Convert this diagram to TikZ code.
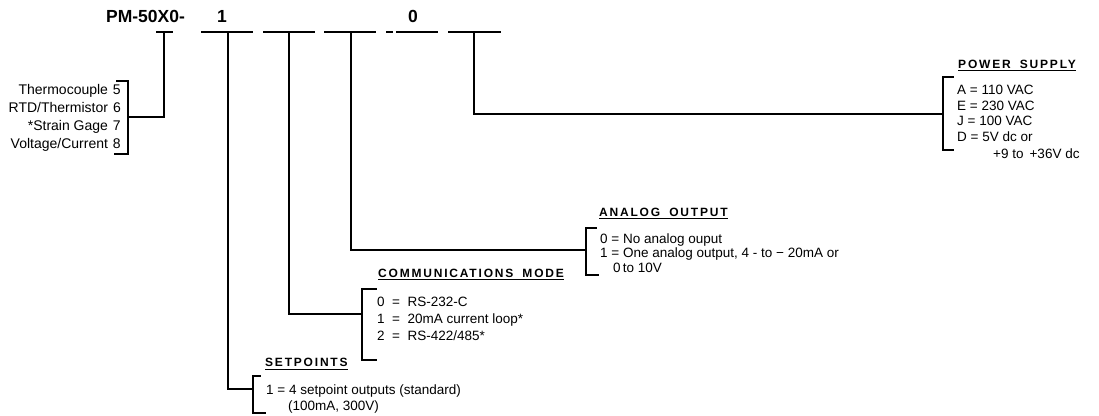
\documentclass[tikz,border=0pt]{standalone}
\usepackage{fontspec}
\setmainfont{Liberation Sans}
\newfontfamily\hdrfont{Liberation Sans}[LetterSpace=15]
\begin{document}
\begin{tikzpicture}[x=1pt,y=-1pt,
  ln/.style={line width=1.3pt, line join=miter, line cap=rect},
  ul/.style={line width=1.1pt},
  codetxt/.style={inner sep=0pt, anchor=base, font=\bfseries\fontsize{17.5}{20}\selectfont},
  lbl/.style={inner sep=0pt, anchor=base east, font=\fontsize{14}{16}\selectfont},
  item/.style={inner sep=0pt, anchor=base west, font=\fontsize{13.5}{16}\selectfont},
  hdr/.style={inner sep=0pt, anchor=base west, font=\hdrfont\bfseries\fontsize{12}{14}\selectfont}]
\useasboundingbox[fill=white] (0,0) rectangle (1099,415);

% model code
\node[codetxt] (pm) at (145.5,22.5) {PM-50X0-};
\node[codetxt] (d1) at (222,22.5) {1};
\node[codetxt] (d0) at (413,22.5) {0};

% slot underlines
\coordinate (s0a) at (157,32); \coordinate (s0b) at (172,32); \coordinate (s0m) at (164,32);
\coordinate (s1a) at (202,32); \coordinate (s1b) at (252,32); \coordinate (s1m) at (228,32);
\coordinate (s2a) at (264,32); \coordinate (s2b) at (314,32); \coordinate (s2m) at (289,32);
\coordinate (s3a) at (325,32); \coordinate (s3b) at (375,32); \coordinate (s3m) at (351,32);
\coordinate (s4a) at (387,32); \coordinate (s4c) at (392,32); \coordinate (s4d) at (397,32); \coordinate (s4b) at (437,32);
\coordinate (s5a) at (449,32); \coordinate (s5b) at (500,32); \coordinate (s5m) at (474,32);
\draw[ln] (s0a) -- (s0b);
\draw[ln] (s1a) -- (s1b);
\draw[ln] (s2a) -- (s2b);
\draw[ln] (s3a) -- (s3b);
\draw[ln] (s4a) -- (s4c);
\draw[ln] (s4d) -- (s4b);
\draw[ln] (s5a) -- (s5b);

% input type (left)
\node[lbl] (t5) at (121,94) {Thermocouple\hspace{5pt}5};
\node[lbl] (t6) at (121,112) {RTD/Thermistor\hspace{5pt}6};
\node[lbl] (t7) at (121,130) {*Strain Gage\hspace{5pt}7};
\node[lbl] (t8) at (121,148) {Voltage/Current\hspace{5pt}8};
\coordinate (lt) at (128,81); \coordinate (ltt) at (117,81);
\coordinate (lb) at (128,154); \coordinate (lbt) at (115,154);
\coordinate (lm) at (128,117);
\draw[ln] (ltt) -- (lt) -- (lb) -- (lbt);
\draw[ln] (s0m) |- (lm);

% power supply
\node[hdr] (psh) at (958,68.3) {POWER\hspace{4pt} SUPPLY};
\draw[ul] ([yshift=-2.5pt]psh.base west) -- ([yshift=-2.5pt]psh.base east);
\node[item] (pa) at (957,94) {A = 110 VAC};
\node[item] (pe) at (957,110) {E = 230 VAC};
\node[item] (pj) at (957,125.5) {J = 100 VAC};
\node[item] (pd) at (957,141.5) {D = 5V dc or};
\node[item] (pd2) at (993,158) {+9 to\, +36V dc};
\coordinate (pt) at (943,77); \coordinate (ptt) at (953,77);
\coordinate (pb) at (943,150); \coordinate (pbt) at (953,150);
\coordinate (pm2) at (943,114);
\draw[ln] (ptt) -- (pt) -- (pb) -- (pbt);
\draw[ln] (s5m) |- (pm2);

% analog output
\node[hdr] (aoh) at (599,216.3) {ANALOG\hspace{4pt} OUTPUT};
\draw[ul] ([yshift=-2.5pt]aoh.base west) -- ([yshift=-2.5pt]aoh.base east);
\node[item] (a0) at (600,243) {0 = No analog ouput};
\node[item] (a1) at (600,257.5) {1 = One analog output, 4 - to \char"2212{} 20mA or};
\node[item] (a2) at (613,272.5) {0\,to 10V};
\coordinate (at) at (586,228); \coordinate (att) at (596,228);
\coordinate (ab) at (586,275); \coordinate (abt) at (598,275);
\coordinate (am) at (586,250);
\draw[ln] (att) -- (at) -- (ab) -- (abt);
\draw[ln] (s3m) |- (am);

% communications mode
\node[hdr] (cmh) at (378,277) {COMMUNICATIONS\hspace{4pt} MODE};
\draw[ul] ([yshift=-2.5pt]cmh.base west) -- ([yshift=-2.5pt]cmh.base east);
\node[item] (c0) at (377,306) {0\ \ =\ \ RS-232-C};
\node[item] (c1) at (377,323) {1\ \ =\ \ 20mA current loop*};
\node[item] (c2) at (377,340) {2\ \ =\ \ RS-422/485*};
\coordinate (ct) at (362,289); \coordinate (ctt) at (376,289);
\coordinate (cb) at (362,360); \coordinate (cbt) at (376,360);
\coordinate (cm) at (362,314);
\draw[ln] (ctt) -- (ct) -- (cb) -- (cbt);
\draw[ln] (s2m) |- (cm);

% setpoints
\node[hdr] (sph) at (265,366.7) {SETPOINTS};
\draw[ul] ([yshift=-2.5pt]sph.base west) -- ([yshift=-2.5pt]sph.base east);
\node[item] (sp1) at (266,394.5) {1 = 4 setpoint outputs (standard)};
\node[item] (sp2) at (288,410) {(100mA, 300V)};
\coordinate (spt) at (253,376); \coordinate (sptt) at (260,376);
\coordinate (spb) at (253,413); \coordinate (spbt) at (265,413);
\coordinate (spm) at (253,389);
\draw[ln] (sptt) -- (spt) -- (spb) -- (spbt);
\draw[ln] (s1m) |- (spm);
\end{tikzpicture}
\end{document}
